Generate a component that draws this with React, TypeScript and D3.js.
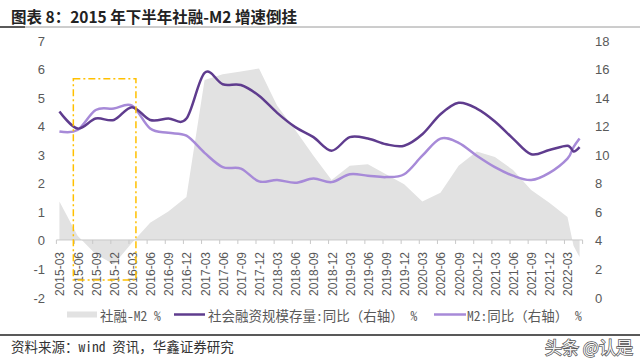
import React from "react";
import * as d3 from "d3";

const DATES = [
  "2015-03","2015-06","2015-09","2015-12","2016-03","2016-06","2016-09","2016-12",
  "2017-03","2017-06","2017-09","2017-12","2018-03","2018-06","2018-09","2018-12",
  "2019-03","2019-06","2019-09","2019-12","2020-03","2020-06","2020-09","2020-12",
  "2021-03","2021-06","2021-09","2021-12","2022-03","2022-04","2022-05",
];
// 社融-M2 % (left axis)
const GAP = [
  1.35, 0.15, -0.5, -0.85, -0.1, 0.6, 1.0, 1.5,
  5.6, 5.8, 5.9, 6.0, 4.7, 3.85, 2.95, 2.1,
  2.6, 2.65, 2.3, 1.95, 1.35, 1.65, 2.6, 3.1,
  2.9, 2.45, 1.75, 1.3, 0.8, -0.2, -0.6,
];
// 社会融资规模存量:同比 (right axis)
const TSF = [
  13.0, 11.8, 12.5, 12.4, 13.3, 12.4, 12.5, 12.5,
  15.7, 14.9, 14.85, 14.1, 12.9, 11.9, 11.2, 10.25,
  11.2, 11.1, 10.7, 10.6, 11.4, 12.8, 13.6, 13.2,
  12.3, 11.1, 10.0, 10.3, 10.6, 10.2, 10.5,
];
// M2:同比 (right axis)
const M2 = [
  11.6, 11.7, 13.1, 13.2, 13.4, 11.8, 11.5, 11.3,
  10.1, 9.1, 9.0, 8.1, 8.2, 8.0, 8.3, 8.05,
  8.6, 8.5, 8.4, 8.6, 9.9, 11.1, 10.8, 9.9,
  9.1, 8.5, 8.2, 8.7, 9.7, 10.5, 11.1,
];
const TICK_LABELS = [
  "2015-03","2015-06","2015-09","2015-12","2016-03","2016-06","2016-09","2016-12",
  "2017-03","2017-06","2017-09","2017-12","2018-03","2018-06","2018-09","2018-12",
  "2019-03","2019-06","2019-09","2019-12","2020-03","2020-06","2020-09","2020-12",
  "2021-03","2021-06","2021-09","2021-12","2022-03",
];
const LEFT_TICKS = [-2, -1, 0, 1, 2, 3, 4, 5, 6, 7];
const RIGHT_TICKS = [0, 2, 4, 6, 8, 10, 12, 14, 16, 18];
const FIRST_MONTH = "2015-03";
const LAST_MONTH = "2022-05";
// highlight box (month index / left-axis units)
const BOX = { x0: 2.3, x1: 12.65, y0: -1.4, y1: 5.64 };

const TITLE = "图表 8：2015 年下半年社融-M2 增速倒挂";
const SOURCE = "资料来源：wind 资讯，华鑫证券研究";
const LEGEND = ["社融-M2 %", "社会融资规模存量:同比（右轴） %", "M2:同比（右轴） %"];

const monthIndex = (s: string) => {
  const [y, m] = s.split("-").map(Number);
  const [y0, m0] = FIRST_MONTH.split("-").map(Number);
  return (y - y0) * 12 + (m - m0);
};

const C_DARK = "#5f3c8e";
const C_LIGHT = "#a78ad8";
const C_AREA = "#e2e2e2";
const C_TEXT = "#595959";
const MONO = '"Noto Sans Mono CJK SC", "Noto Sans CJK SC", sans-serif';
const NUMF = '"Liberation Sans", Arial, sans-serif';

export default function App() {
  const W = 640, H = 363;
  const nLast = monthIndex(LAST_MONTH);
  const x = d3.scaleLinear().domain([-0.5, nLast + 0.5]).range([56.4, 582.6]);
  const yL = d3.scaleLinear().domain([-2, 7]).range([297.1, 40]);
  const yR = d3.scaleLinear().domain([0, 18]).range([297.1, 40]);

  const idx = DATES.map(monthIndex);

  const area = d3.area<number>()
    .x((_, i) => x(idx[i]))
    .y0(yL(0))
    .y1((d) => yL(d))
    .curve(d3.curveLinear);

  const line = d3.line<number>()
    .x((_, i) => x(idx[i]))
    .y((d) => yR(d))
    .curve(d3.curveCardinal.tension(0));

  const tickPos = [...TICK_LABELS.map((t) => monthIndex(t) - 0.5), nLast + 0.5];
  const axisY = yL(0);

  return (
    <svg width={W} height={H} style={{ position: "absolute", left: 0, top: 0, background: "#fff" }}>
      <rect x={0} y={0} width={W} height={H} fill="#fff" />
      {/* title */}
      <text x={11} y={16} fontFamily='"Noto Sans CJK SC", sans-serif' fontWeight={700} fontSize={15.5}
        fill="#222" dominantBaseline="central">{TITLE}</text>
      <line x1={0} x2={W} y1={27} y2={27} stroke="#9a9a9a" strokeWidth={1} />
      <line x1={0} x2={25} y1={27} y2={27} stroke="#333" strokeWidth={1.5} />

      {/* area */}
      <path d={area(GAP) || ""} fill={C_AREA} />

      {/* x axis */}
      <line x1={x(-0.5)} x2={x(nLast + 0.5)} y1={axisY} y2={axisY} stroke="#c8c8c8" strokeWidth={1} />
      {tickPos.map((t, i) => (
        <line key={i} x1={x(t)} x2={x(t)} y1={axisY} y2={axisY + 4} stroke="#c8c8c8" strokeWidth={1} />
      ))}
      {TICK_LABELS.map((t) => {
        const px = x(monthIndex(t)) + 1;
        return (
          <text key={t} transform={`translate(${px},252) rotate(-90)`} textAnchor="end"
            dominantBaseline="central" fontFamily={NUMF} fontSize={12} fill={C_TEXT}>{t}</text>
        );
      })}

      {/* y axes labels */}
      {LEFT_TICKS.map((v) => (
        <text key={v} x={45} y={yL(v) + 1} textAnchor="end" dominantBaseline="central"
          fontFamily={NUMF} fontSize={13} fill={C_TEXT}>{v}</text>
      ))}
      {RIGHT_TICKS.map((v) => (
        <text key={v} x={595} y={yR(v) + 1} textAnchor="start" dominantBaseline="central"
          fontFamily={NUMF} fontSize={13} fill={C_TEXT}>{v}</text>
      ))}

      {/* lines */}
      <path d={line(M2) || ""} fill="none" stroke={C_LIGHT} strokeWidth={2.5} />
      <path d={line(TSF) || ""} fill="none" stroke={C_DARK} strokeWidth={2.5} />

      {/* highlight box */}
      <rect x={x(BOX.x0)} y={yL(BOX.y1)} width={x(BOX.x1) - x(BOX.x0)} height={yL(BOX.y0) - yL(BOX.y1)}
        fill="none" stroke="#ffc000" strokeWidth={1.5} strokeDasharray="7,3,2,3" />

      {/* legend */}
      <rect x={67} y={311.5} width={30} height={6} fill={C_AREA} />
      <text x={100} y={315} dominantBaseline="central" fontFamily={MONO} fontSize={13.5} fill={C_TEXT}>{LEGEND[0]}</text>
      <line x1={174} x2={205} y1={314.5} y2={314.5} stroke={C_DARK} strokeWidth={2.5} />
      <text x={208} y={315} dominantBaseline="central" fontFamily={MONO} fontSize={13.5} fill={C_TEXT}>{LEGEND[1]}</text>
      <line x1={434} x2={466} y1={314.5} y2={314.5} stroke={C_LIGHT} strokeWidth={2.5} />
      <text x={467} y={315} dominantBaseline="central" fontFamily={MONO} fontSize={13.5} fill={C_TEXT}>{LEGEND[2]}</text>

      {/* footer */}
      <line x1={0} x2={W} y1={335} y2={335} stroke="#222" strokeWidth={1.5} />
      <text x={11} y={346} dominantBaseline="central" fontFamily={MONO} fontSize={13.5} fill="#333">{SOURCE}</text>
      <text x={545} y={346} dominantBaseline="central" fontFamily='"Noto Sans CJK SC", sans-serif' fontSize={17}
        fill="#f4f4f4" stroke="#555" strokeWidth={1.4} style={{ paintOrder: "stroke" }}>头条 @认是</text>
    </svg>
  );
}
